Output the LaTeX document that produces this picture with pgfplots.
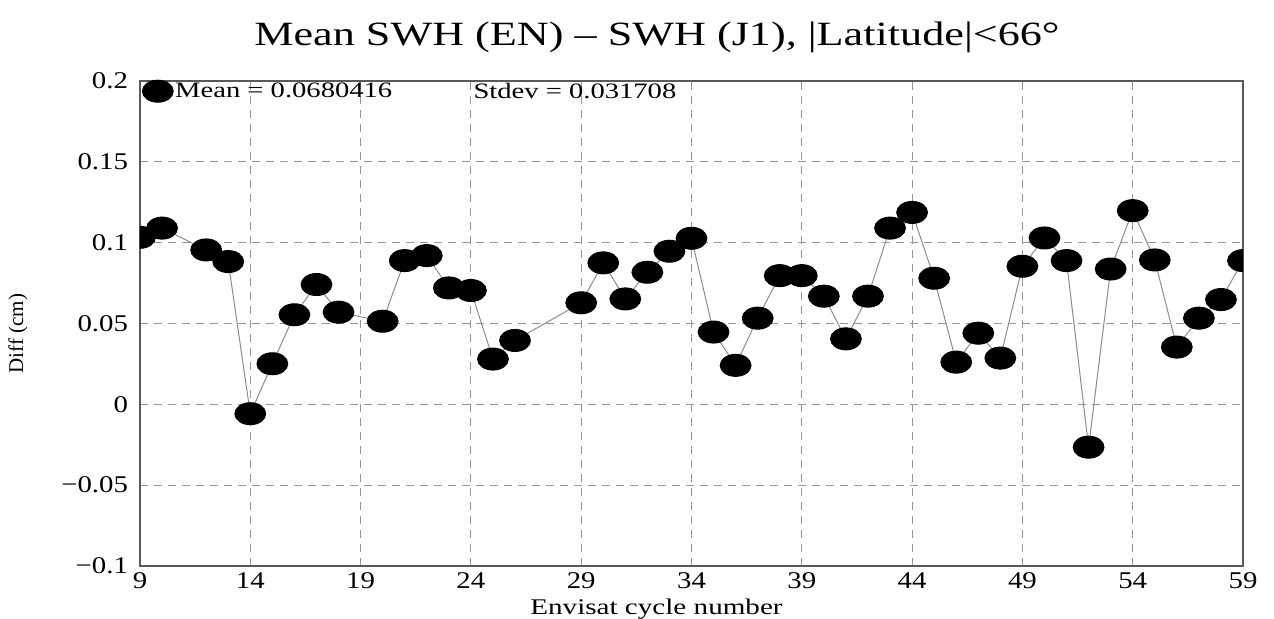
\documentclass[border=0pt]{standalone}
\usepackage{fontspec}
\setmainfont{Liberation Serif}[FakeStretch=1.3]
\newfontfamily\plainserif{Liberation Serif}
\newfontfamily\tickserif{Liberation Serif}[FakeStretch=1.2]
\usepackage{pgfplots}
\pgfplotsset{compat=1.18}
\definecolor{gridgray}{RGB}{150,150,150}
\definecolor{framegray}{RGB}{90,90,90}
\definecolor{linegray}{RGB}{140,140,140}
\begin{document}
\begin{tikzpicture}
\begin{axis}[
  at={(0,0)}, anchor=south west,
  scale only axis,
  width=551.5pt, height=242.5pt,
  xmin=9, xmax=59, ymin=-0.1, ymax=0.2,
  xtick={9,14,19,24,29,34,39,44,49,54,59},
  xticklabels={9,14,19,24,29,34,39,44,49,54,59},
  ytick={-0.1,-0.05,0,0.05,0.1,0.15,0.2},
  yticklabels={−0.1,−0.05,0,0.05,0.1,0.15,0.2},
  tick label style={font=\tickserif\fontsize{12}{14}\selectfont},
  yticklabel style={xshift=-2.5pt},
  major tick length=0pt,
  xmajorgrids, ymajorgrids,
  grid style={gridgray, dash pattern=on 4pt off 3pt, line width=0.5pt},
  axis line style={framegray, line width=0.6pt},
  xlabel={Envisat cycle number},
  ylabel={Diff (cm)},
  xlabel style={font=\fontsize{11.2}{13}\selectfont, yshift=2pt, xshift=-17.5pt},
  ylabel style={font=\plainserif\fontsize{10.5}{12}\selectfont, yshift=10pt, xshift=-5pt},
  clip marker paths=true,
  legend style={at={(0,1)}, anchor=north west, draw=none, fill=none, yshift=2.5pt, xshift=1pt,
    inner xsep=0pt, inner ysep=1pt, font=\fontsize{11}{13}\selectfont,
    nodes={inner xsep=1pt}},
  legend image code/.code={\draw[#1, draw=none] plot coordinates {(0.22cm,0cm)};},
]
\addplot[linegray, line width=0.5pt, mark=*, mark size=5.5pt,
  mark options={xscale=1.4, fill=black, draw=black}] coordinates {
(9,0.1033) (10,0.109) (12,0.0955) (13,0.0883) (14,-0.0058) (15,0.0251)
(16,0.0554) (17,0.0741) (18,0.057) (20,0.0514) (21,0.0889) (22,0.092)
(23,0.072) (24,0.0704) (25,0.028) (26,0.0395) (29,0.0628) (30,0.0875)
(31,0.0652) (32,0.0817) (33,0.0947) (34,0.1027) (35,0.0447) (36,0.0241)
(37,0.0533) (38,0.0796) (39,0.0796) (40,0.0669) (41,0.0405) (42,0.0669)
(43,0.109) (44,0.1187) (45,0.078) (46,0.0261) (47,0.044) (48,0.0286)
(49,0.0854) (50,0.1029) (51,0.0889) (52,-0.0265) (53,0.0837) (54,0.1198)
(55,0.0893) (56,0.0354) (57,0.0533) (58,0.0648) (59,0.0889)
};
\addlegendentry{Mean = 0.0680416}
\node[anchor=west, inner sep=0pt, font=\fontsize{11}{13}\selectfont] at (axis cs:24.1,0.194) {Stdev = 0.031708};
\end{axis}
\node[font=\fontsize{17}{20}\selectfont] at (258.5pt,264.5pt) {Mean SWH (EN) – SWH (J1), |Latitude|<66°};
\pgfresetboundingbox
\path (-70pt,-26.5pt) rectangle (567pt,283pt);
\end{tikzpicture}
\end{document}
